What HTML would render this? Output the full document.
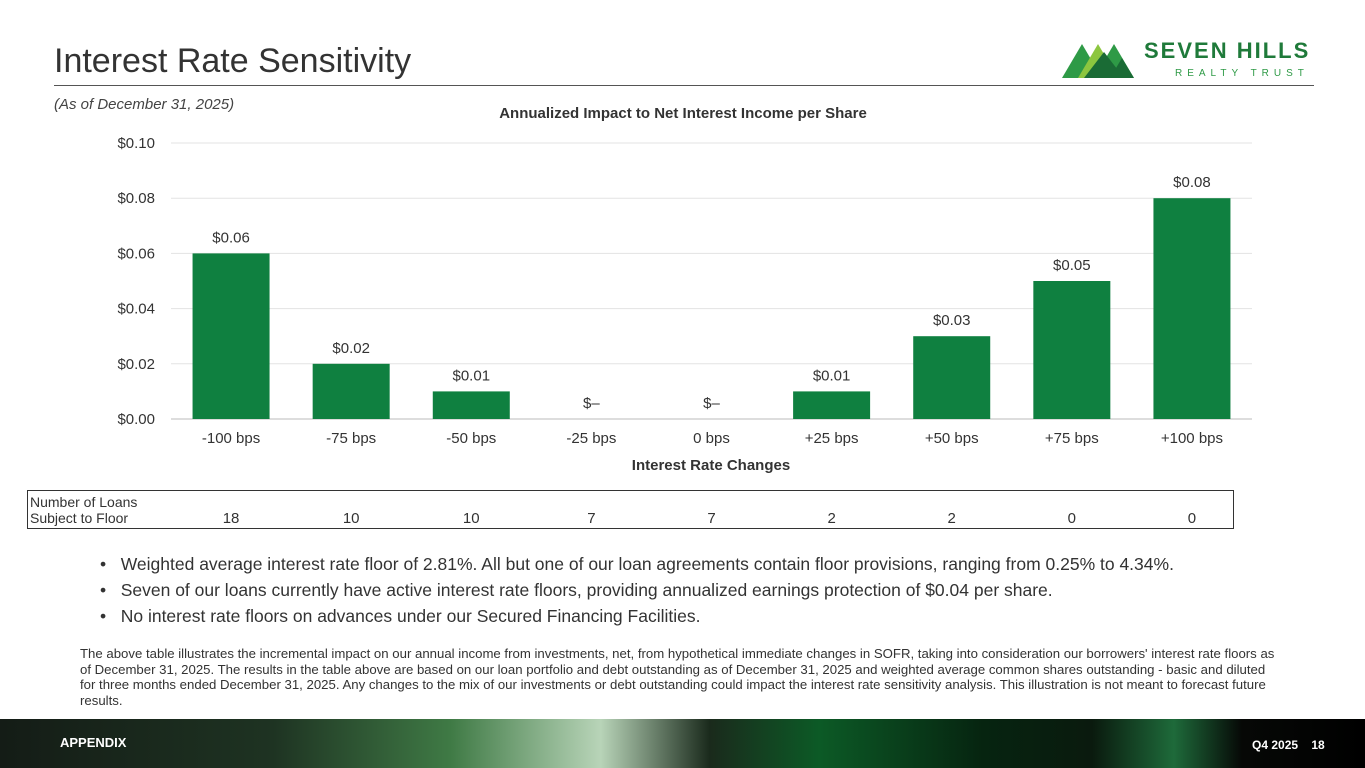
<!DOCTYPE html>
<html><head><meta charset="utf-8"><style>
body{margin:0;width:1365px;height:768px;overflow:hidden;background:#fff;font-family:"Liberation Sans",sans-serif;position:relative;color:#222}
.abs{position:absolute}
</style></head><body>
<div class="abs" style="left:54px;top:42px;font-size:34px;color:#333">Interest Rate Sensitivity</div>
<div class="abs" style="left:54px;top:85px;width:1260px;height:1px;background:#555"></div>
<div class="abs" style="left:54px;top:96px;font-size:15px;font-style:italic;color:#444">(As of December 31, 2025)</div>
<svg class="abs" style="left:1060px;top:38px" width="260" height="44">
<polygon points="2,40 22,6 42,40" fill="#2e9a46"/><polygon points="18,40 38,6 58,40" fill="#8cc63f"/><polygon points="34,40 54,6 74,40" fill="#2e9a46"/><polygon points="24,40 44,14 64,40" fill="#1a6b35"/><polygon points="50,40 62,20 74,40" fill="#1a6b35"/>
<text x="84" y="20" font-size="22" font-weight="bold" fill="#1f7a3a" letter-spacing="2" font-family="Liberation Sans">SEVEN HILLS</text>
<text x="115" y="38" font-size="10" fill="#2e9a46" letter-spacing="5" font-family="Liberation Sans">REALTY TRUST</text>
</svg>
<svg class="abs" style="left:0;top:0" width="1365" height="490" id="chart"></svg>
<div class="abs" style="left:27px;top:490px;width:1205px;height:37px;border:1px solid #333"></div>
<div class="abs" style="left:30px;top:494px;font-size:14px;line-height:16px;color:#333">Number of Loans<br>Subject to Floor</div>
<div id="tbl"></div>
<div class="abs" style="left:100px;top:551px;font-size:17.5px;line-height:26px;color:#333">
<div>•&nbsp;&nbsp;&nbsp;Weighted average interest rate floor of 2.81%. All but one of our loan agreements contain floor provisions, ranging from 0.25% to 4.34%.</div>
<div>•&nbsp;&nbsp;&nbsp;Seven of our loans currently have active interest rate floors, providing annualized earnings protection of $0.04 per share.</div>
<div>•&nbsp;&nbsp;&nbsp;No interest rate floors on advances under our Secured Financing Facilities.</div></div>
<div class="abs" style="left:80px;top:646px;white-space:nowrap;font-size:13.2px;line-height:15.5px;color:#333">The above table illustrates the incremental impact on our annual income from investments, net, from hypothetical immediate changes in SOFR, taking into consideration our borrowers' interest rate floors as<br>of December 31, 2025. The results in the table above are based on our loan portfolio and debt outstanding as of December 31, 2025 and weighted average common shares outstanding - basic and diluted<br>for three months ended December 31, 2025. Any changes to the mix of our investments or debt outstanding could impact the interest rate sensitivity analysis. This illustration is not meant to forecast future<br>results.</div>
<div class="abs" style="left:0;top:719px;width:1365px;height:49px;background:linear-gradient(90deg,#141c16 0%,#1e3322 20%,#3f7a45 33%,#b8d4b8 44%,#1a2a1c 52%,#0c5a26 60%,#062410 72%,#0a1a0e 80%,#1e6a3a 86%,#060806 91%,#000 100%)"></div>
<div class="abs" style="left:60px;top:735px;font-size:13px;font-weight:bold;color:#fff">APPENDIX</div>
<div class="abs" style="left:1252px;top:738px;font-size:12px;font-weight:bold;color:#fff">Q4 2025&nbsp;&nbsp;&nbsp;&nbsp;18</div>
<script>
const categories=["-100 bps","-75 bps","-50 bps","-25 bps","0 bps","+25 bps","+50 bps","+75 bps","+100 bps"];
const values=[0.06,0.02,0.01,0,0,0.01,0.03,0.05,0.08];
const valueLabels=["$0.06","$0.02","$0.01","$–","$–","$0.01","$0.03","$0.05","$0.08"];
const yTicks=[0,0.02,0.04,0.06,0.08,0.10];
const loans=[18,10,10,7,7,2,2,0,0];
const NS="http://www.w3.org/2000/svg",svg=document.getElementById('chart');
const x0=171,x1=1252,y0=419,yTop=143,bw=(x1-x0)/categories.length;
const y=v=>y0-(v/0.10)*(y0-yTop);
const xc=i=>x0+bw*(i+0.5);
function mk(t,a,txt){const e=document.createElementNS(NS,t);for(const k in a)e.setAttribute(k,a[k]);if(txt!=null)e.textContent=txt;svg.appendChild(e);return e;}
let t=mk('text',{x:683,y:118,'text-anchor':'middle','font-size':15,'font-weight':'bold',fill:'#333'},'Annualized Impact to Net Interest Income per Share');

yTicks.forEach(v=>{
 let l=mk('line',{x1:x0,x2:x1,y1:y(v),y2:y(v),stroke:v===0?'#bbb':'#e3e3e3'});
 
 let tx=mk('text',{x:155,y:y(v)+5,'text-anchor':'end','font-size':15,fill:'#333'},'$'+v.toFixed(2));
 
});
categories.forEach((c,i)=>{
 let r=mk('rect',{x:xc(i)-38.5,y:y(values[i]),width:77,height:y0-y(values[i]),fill:'#0f8040'});
 
 let vl=mk('text',{x:xc(i),y:y(values[i])-11,'text-anchor':'middle','font-size':15,fill:'#333'},valueLabels[i]);
 
 let cl=mk('text',{x:xc(i),y:443,'text-anchor':'middle','font-size':15,fill:'#333'},c);
 
 let d=document.createElement('div');d.className='abs';d.textContent=loans[i];
 
 
 d.style.cssText=`left:${xc(i)-30}px;top:510px;width:60px;text-align:center;font-size:15px;color:#333`;
 document.getElementById('tbl').appendChild(d);
});
let xt=mk('text',{x:711,y:470,'text-anchor':'middle','font-size':15,'font-weight':'bold',fill:'#333'},'Interest Rate Changes');

</script>
</body></html>
